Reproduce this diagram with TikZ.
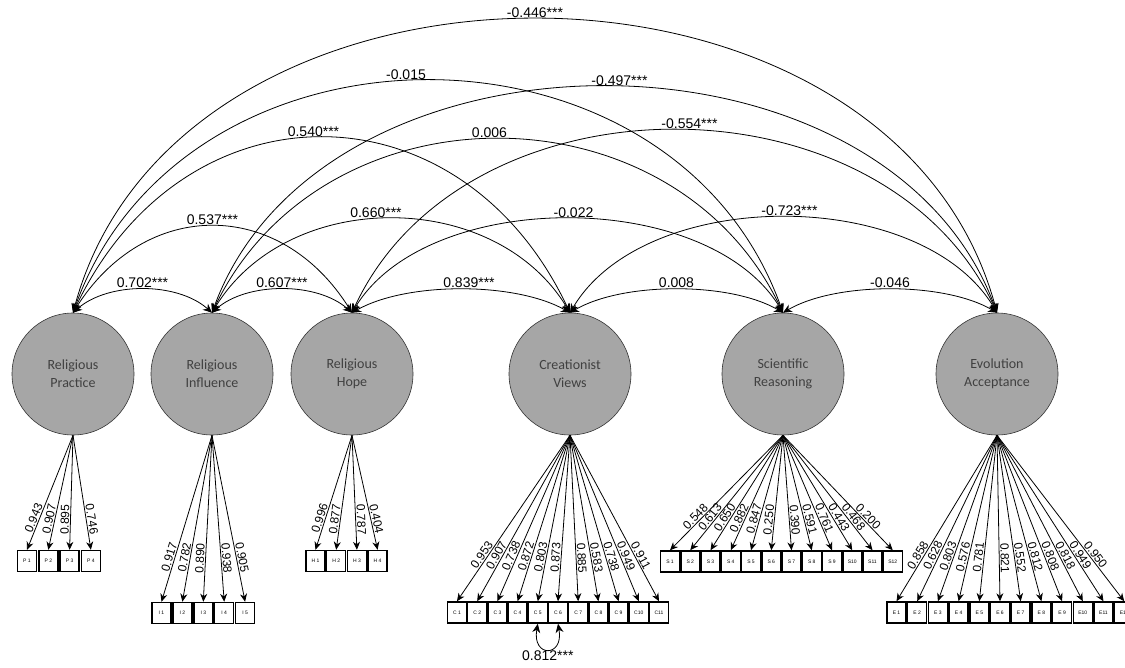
\documentclass[tikz,border=0pt]{standalone}
\usepackage{fontspec}
\setmainfont{Liberation Sans}
\newfontfamily\latfont{Carlito}
\usetikzlibrary{arrows.meta}
\definecolor{latgray}{HTML}{A6A6A6}
\begin{document}
\begin{tikzpicture}[x=1pt,y=-1pt,
  latent/.style={circle,draw=black!80,line width=0.6pt,fill=latgray,minimum size=122pt,inner sep=0pt,align=center,text=black!75,font=\latfont\fontsize{14}{18}\selectfont},
  item/.style={draw,line width=1.5pt,fill=white,minimum width=19pt,minimum height=21pt,inner sep=0pt,font=\fontsize{5}{6}\selectfont},
  cov/.style={{Stealth[length=9pt,width=8pt]}-{Stealth[length=9pt,width=8pt]},line width=0.8pt},
  load/.style={-{Stealth[length=8pt,width=7pt]},line width=0.8pt},
  coef/.style={above,inner sep=1pt,font=\fontsize{14}{16}\selectfont},
  ld/.style={sloped,above,pos=0.74,inner sep=1pt,font=\fontsize{12}{14}\selectfont}]
\useasboundingbox (0,0) rectangle (1125,667);

\node[latent] (P) at (73,374) {Religious\\Practice};
\node[latent] (I) at (212,374) {Religious\\Influence};
\node[latent] (H) at (352,374) {Religious\\Hope};
\node[latent] (C) at (570,374) {Creationist\\Views};
\node[latent] (S) at (783,374) {Scientific\\Reasoning};
\node[latent] (E) at (997,374) {Evolution\\Acceptance};

\draw[cov] (P.north) .. controls +(35,-31) and +(-35,-31) .. node[coef]{0.702***} (I.north);
\draw[cov] (I.north) .. controls +(35,-31) and +(-35,-31) .. node[coef]{0.607***} (H.north);
\draw[cov] (H.north) .. controls +(55,-31) and +(-55,-31) .. node[coef,xshift=8pt]{0.839***} (C.north);
\draw[cov] (C.north) .. controls +(53,-31) and +(-53,-31) .. node[coef]{0.008} (S.north);
\draw[cov] (S.north) .. controls +(53,-31) and +(-53,-31) .. node[coef]{-0.046} (E.north);

\draw[cov] (P.north) .. controls +(72,-115) and +(-72,-115) .. node[coef]{0.537***} (H.north);
\draw[cov] (I.north) .. controls +(75,-125) and +(-75,-125) .. node[coef,xshift=-15pt]{0.660***} (C.north);
\draw[cov] (H.north) .. controls +(75,-125) and +(-75,-125) .. node[coef,xshift=6pt]{-0.022} (S.north);
\draw[cov] (C.north) .. controls +(75,-127) and +(-75,-127) .. node[coef,xshift=6pt]{-0.723***} (E.north);

\draw[cov] (P.north) .. controls +(110,-233) and +(-110,-233) .. node[coef,xshift=-8pt]{0.540***} (C.north);
\draw[cov] (I.north) .. controls +(110,-231) and +(-110,-231) .. node[coef,xshift=-8pt]{0.006} (S.north);
\draw[cov] (H.north) .. controls +(112,-243) and +(-112,-243) .. node[coef,xshift=15pt]{-0.554***} (E.north);

\draw[cov] (P.north) .. controls +(110,-309) and +(-110,-309) .. node[coef,xshift=-22pt]{-0.015} (S.north);
\draw[cov] (I.north) .. controls +(110,-301) and +(-110,-301) .. node[coef,xshift=15pt]{-0.497***} (E.north);

\draw[cov] (P.north) .. controls +(105,-391) and +(-105,-391) .. node[coef]{-0.446***} (E.north);

\foreach \v [count=\i] in {0.943,0.907,0.895,0.746}{
  \node[item] (p\i) at ({27+21.3*(\i-1)},561) {P \i};
  \draw[load] (P.south) -- node[ld]{\v} (p\i.north);
}
\foreach \v [count=\i] in {0.917,0.782,0.890,0.938,0.905}{
  \node[item] (i\i) at ({161.5+20.9*(\i-1)},613) {I \i};
  \draw[load] (I.south) -- node[ld]{\v} (i\i.north);
}
\foreach \v [count=\i] in {0.996,0.877,0.787,0.404}{
  \node[item] (h\i) at ({315.5+20.7*(\i-1)},561) {H \i};
  \draw[load] (H.south) -- node[ld]{\v} (h\i.north);
}
\foreach \v/\t [count=\i] in {0.953/C 1,0.907/C 2,0.738/C 3,0.872/C 4,0.803/C 5,0.873/C 6,0.885/C 7,0.583/C 8,0.738/C 9,0.949/C10,0.911/C11}{
  \node[item] (c\i) at ({457+20.2*(\i-1)},612.5) {\t};
  \draw[load] (C.south) -- node[ld]{\v} (c\i.north);
}
\foreach \v/\t [count=\i] in {0.548/S 1,0.613/S 2,0.650/S 3,0.882/S 4,0.847/S 5,0.250/S 6,0.390/S 7,0.591/S 8,0.761/S 9,0.443/S10,0.468/S11,0.200/S12}{
  \node[item] (s\i) at ({670+20.25*(\i-1)},561.5) {\t};
  \draw[load] (S.south) -- node[ld]{\v} (s\i.north);
}
\foreach \v/\t [count=\i] in {0.858/E 1,0.628/E 2,0.803/E 3,0.576/E 4,0.781/E 5,0.821/E 6,0.552/E 7,0.812/E 8,0.808/E 9,0.818/E10,0.949/E11,0.950/E12}{
  \node[item] (e\i) at ({896.5+20.7*(\i-1)},612.5) {\t};
  \draw[load] (E.south) -- node[ld]{\v} (e\i.north);
}

\draw[cov] (c5.south) .. controls +(-6,34) and +(6,34) .. node[below,inner sep=1pt,font=\fontsize{14}{16}\selectfont]{0.812***} (c6.south);
\end{tikzpicture}
\end{document}
